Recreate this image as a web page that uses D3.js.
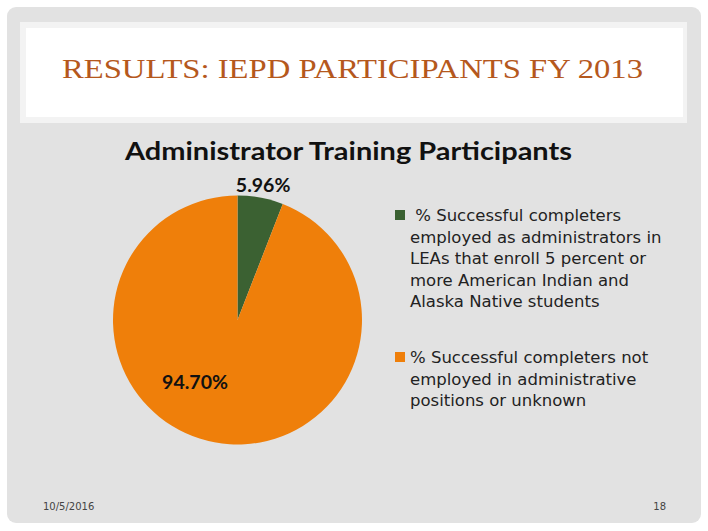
<!DOCTYPE html>
<html>
<head>
<meta charset="utf-8">
<script src="https://cdn.jsdelivr.net/npm/d3@7"></script>
<style>
  html, body { margin: 0; padding: 0; background: #ffffff; }
  svg { display: block; }
</style>
</head>
<body>
<svg id="chart" width="708" height="531"></svg>
<script>
// ---- data ----
const slideTitle = "RESULTS: IEPD PARTICIPANTS FY 2013";
const chartTitle = "Administrator Training Participants";
const categories = [
  "% Successful completers employed as administrators in LEAs that enroll 5 percent or more American Indian and Alaska Native students",
  "% Successful completers not employed in administrative positions or unknown"
];
const values = [5.96, 94.70];
const valueLabels = ["5.96%", "94.70%"];
const legendLines = [
  [" % Successful completers", "employed as administrators in", "LEAs that enroll 5 percent or", "more American Indian and", "Alaska Native students"],
  ["% Successful completers not", "employed in administrative", "positions or unknown"]
];
const colors = ["#3b6132", "#ef7f0a"];
const footerDate = "10/5/2016";
const footerPage = "18";

// ---- drawing ----
const svg = d3.select("#chart");

// slide background frame
svg.append("rect").attr("x", 7).attr("y", 7).attr("width", 694).attr("height", 516)
  .attr("rx", 9).attr("fill", "#e2e2e2");
// title box
svg.append("rect").attr("x", 20).attr("y", 22).attr("width", 667).attr("height", 101)
  .attr("fill", "#f3f3f3");
svg.append("rect").attr("x", 26).attr("y", 28).attr("width", 657).attr("height", 89)
  .attr("fill", "#ffffff");
svg.append("text").attr("x", 62).attr("y", 78)
  .attr("font-family", "'Liberation Serif', 'DejaVu Serif', serif")
  .attr("font-size", 27).attr("fill", "#b5581d")
  .attr("textLength", 581).attr("lengthAdjust", "spacingAndGlyphs")
  .text(slideTitle);

// chart title
svg.append("text").attr("x", 125).attr("y", 160)
  .attr("font-family", "Lato, 'Noto Sans', sans-serif").attr("font-weight", "bold")
  .attr("font-size", 24).attr("fill", "#111")
  .attr("textLength", 447).attr("lengthAdjust", "spacingAndGlyphs")
  .text(chartTitle);

// pie
const cx = 237.5, cy = 320, r = 124.5;
const pie = d3.pie().sort(null).value(d => d);
const arcs = pie(values);
const arc = d3.arc().innerRadius(0).outerRadius(r);
const g = svg.append("g").attr("transform", `translate(${cx},${cy})`);
g.selectAll("path.slice").data(arcs).enter().append("path")
  .attr("class", "slice")
  .attr("d", arc)
  .attr("fill", (d, i) => colors[i]);

// data labels: small slice outside end, large slice inside (best fit)
const outsideArc = d3.arc().innerRadius(r + 14).outerRadius(r + 14);
const insideArc = d3.arc().innerRadius(r * 0.5).outerRadius(r * 0.5);
const labelFont = "Lato, 'Noto Sans', sans-serif";
g.selectAll("text.lbl").data(arcs).enter().append("text")
  .attr("class", "lbl")
  .attr("transform", (d, i) => {
    const c = i === 0 ? outsideArc.centroid(d) : insideArc.centroid(d);
    const dx = i === 0 ? 0 : -31;
    return `translate(${c[0] + dx},${c[1] + 1})`;
  })
  .attr("text-anchor", "middle").attr("dy", "0.35em")
  .attr("font-family", labelFont).attr("font-weight", "bold")
  .attr("font-size", 19.5).attr("fill", "#111")
  .text((d, i) => valueLabels[i]);

// legend
const legendFont = "'DejaVu Sans', sans-serif";
const legendStarts = [221, 363];
const lineH = 21.6;
legendLines.forEach((lines, i) => {
  const lg = svg.append("g");
  lg.append("rect").attr("x", 395).attr("y", legendStarts[i] - 11).attr("width", 10).attr("height", 10)
    .attr("fill", colors[i]);
  const t = lg.append("text")
    .attr("font-family", legendFont).attr("font-size", 16.5).attr("fill", "#222");
  lines.forEach((ln, j) => {
    t.append("tspan").attr("x", 410).attr("y", legendStarts[i] + j * lineH)
      .attr("xml:space", "preserve").style("white-space", "pre").text(ln);
  });
});

// footer
svg.append("text").attr("x", 43).attr("y", 510)
  .attr("font-family", "'DejaVu Sans', sans-serif").attr("font-size", 10).attr("fill", "#444")
  .text(footerDate);
svg.append("text").attr("x", 666).attr("y", 510).attr("text-anchor", "end")
  .attr("font-family", "'DejaVu Sans', sans-serif").attr("font-size", 10).attr("fill", "#444")
  .text(footerPage);
</script>
</body>
</html>
